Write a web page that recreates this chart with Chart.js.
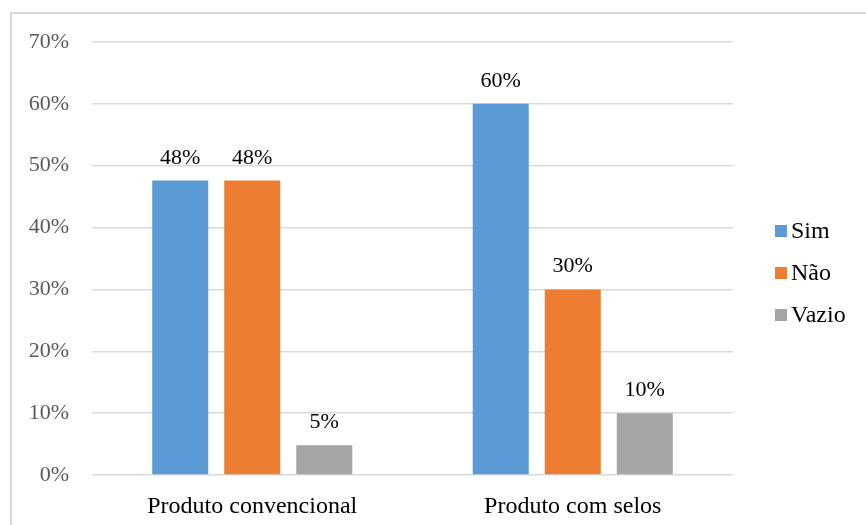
<!DOCTYPE html>
<html>
<head>
<meta charset="utf-8">
<script src="https://cdn.jsdelivr.net/npm/chart.js@4.4.1/dist/chart.umd.min.js"></script>
<style>
  html, body { margin: 0; padding: 0; background: #fff; }
  body { width: 866px; height: 525px; position: relative; overflow: hidden; font-family: "Liberation Serif", serif; }
  .frame {
    position: absolute; left: 10px; top: 12px;
    width: 900px; height: 560px;
    border-left: 2px solid #d9d9d9; border-top: 2px solid #d9d9d9;
  }
  .chart-container { position: absolute; left: 0; top: 0; width: 866px; height: 525px; }
</style>
</head>
<body>
<div class="frame"></div>
<div class="chart-container">
  <canvas id="chart"></canvas>
</div>
<script>
const categories = ['Produto convencional', 'Produto com selos'];
const seriesNames = ['Sim', 'Não', 'Vazio'];
const sim = [0.476, 0.60];
const nao = [0.476, 0.30];
const vazio = [0.048, 0.10];
const yTicks = [0, 0.1, 0.2, 0.3, 0.4, 0.5, 0.6, 0.7];

const colors = ['#5b9bd5', '#ed7d31', '#a5a5a5'];
const FONT = "'Liberation Serif', serif";
const fmtPct = v => Math.round(v * 100) + '%';

Chart.defaults.font.family = FONT;

// value labels above each bar
const barLabels = {
  id: 'barLabels',
  afterDatasetsDraw(chart) {
    const ctx = chart.ctx;
    ctx.save();
    ctx.font = '22px ' + FONT;
    ctx.fillStyle = '#000';
    ctx.textAlign = 'center';
    ctx.textBaseline = 'alphabetic';
    chart.data.datasets.forEach((ds, i) => {
      chart.getDatasetMeta(i).data.forEach((bar, j) => {
        ctx.fillText(fmtPct(ds.data[j]), bar.x, bar.y - 17);
      });
    });
    ctx.restore();
  }
};

// legend on the right, boxes close to the text
const sideLegend = {
  id: 'sideLegend',
  afterDraw(chart) {
    const ctx = chart.ctx;
    const x = 775, y0 = 231, step = 42;
    ctx.save();
    ctx.font = '24px ' + FONT;
    ctx.textBaseline = 'middle';
    chart.data.datasets.forEach((ds, i) => {
      const y = y0 + i * step;
      ctx.fillStyle = ds.backgroundColor;
      ctx.fillRect(x, y - 6, 12, 12);
      ctx.fillStyle = '#000';
      ctx.fillText(ds.label, x + 16, y + 1);
    });
    ctx.restore();
  }
};

const datasets = [sim, nao, vazio].map((values, i) => ({
  label: seriesNames[i],
  data: values,
  backgroundColor: colors[i],
  categoryPercentage: 0.674,
  barPercentage: 0.778
}));

new Chart(document.getElementById('chart'), {
  type: 'bar',
  data: { labels: categories, datasets: datasets },
  options: {
    responsive: true,
    maintainAspectRatio: false,
    animation: false,
    layout: { padding: { top: 42, right: 133, left: 0, bottom: 0 } },
    plugins: {
      legend: { display: false },
      tooltip: { enabled: false }
    },
    scales: {
      x: {
        grid: { display: false, drawTicks: false },
        border: { display: false },
        ticks: { color: '#000', font: { family: FONT, size: 24 }, padding: 17 },
        afterFit: scale => { scale.height = 50; }
      },
      y: {
        min: 0,
        max: 0.7,
        afterBuildTicks: scale => { scale.ticks = yTicks.map(v => ({ value: v })); },
        grid: { color: '#d9d9d9', lineWidth: 1.5, drawTicks: false },
        border: { display: false },
        ticks: {
          color: '#595959',
          font: { family: FONT, size: 22 },
          padding: 23,
          callback: v => fmtPct(v)
        },
        afterFit: scale => { scale.width = 92; }
      }
    }
  },
  plugins: [barLabels, sideLegend]
});
</script>
</body>
</html>
